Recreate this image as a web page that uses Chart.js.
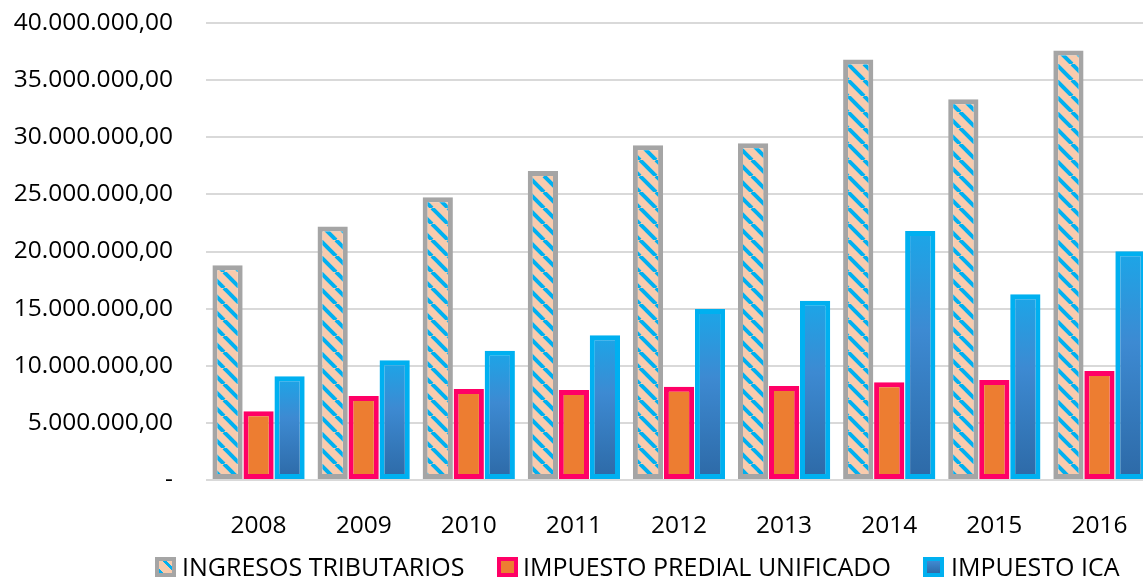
<!DOCTYPE html>
<html>
<head>
<meta charset="utf-8">
<script src="https://cdn.jsdelivr.net/npm/chart.js@4/dist/chart.umd.min.js"></script>
<style>
    html, body { margin: 0; padding: 0; background: #fff; overflow: hidden; }
    #wrap { position: relative; width: 1152px; height: 577px; }
    .legend-item { position: absolute; top: 554px; font: 25px "Open Sans", sans-serif; line-height: 25px; color: #000; white-space: nowrap; }
    .legend-box { position: absolute; top: 557px; width: 21px; height: 20px; box-sizing: border-box; border: 4px solid; }
</style>
</head>
<body>
<div id="wrap">
    <canvas id="budgetChart"></canvas>
    <div class="legend-box" style="left:155px; border-color:#a5a5a5; background:repeating-linear-gradient(45deg, #00b0f0 0 3px, #f8cbad 3px 11px);"></div>
    <div class="legend-item" style="left:182px;">INGRESOS TRIBUTARIOS</div>
    <div class="legend-box" style="left:497px; border-color:#ff0066; background:#ed7d31;"></div>
    <div class="legend-item" style="left:523px;">IMPUESTO PREDIAL UNIFICADO</div>
    <div class="legend-box" style="left:923px; border-color:#00b0f0; background:linear-gradient(#3f8ad2, #2e6aa8);"></div>
    <div class="legend-item" style="left:951px;">IMPUESTO ICA</div>
</div>
<script>
const years = ['2008', '2009', '2010', '2011', '2012', '2013', '2014', '2015', '2016'];
const ingresosTributarios = [18800000, 22180000, 24750000, 27050000, 29310000, 29480000, 36800000, 33330000, 37600000];
const impuestoPredial = [6010000, 7360000, 7970000, 7880000, 8170000, 8230000, 8550000, 8760000, 9540000];
const impuestoIca = [9080000, 10480000, 11320000, 12670000, 14970000, 15700000, 21800000, 16260000, 20030000];
const legendNames = ['INGRESOS TRIBUTARIOS', 'IMPUESTO PREDIAL UNIFICADO', 'IMPUESTO ICA'];

// Excel style "wide downward diagonal" fill
function makeStripes() {
    const tile = document.createElement('canvas');
    tile.width = 16;
    tile.height = 16;
    const c = tile.getContext('2d');
    c.fillStyle = '#f8cbad';
    c.fillRect(0, 0, 16, 16);
    c.strokeStyle = '#00b0f0';
    c.lineWidth = 4;
    [-16, 0, 16].forEach(x0 => {
        c.beginPath();
        c.moveTo(x0, 0);
        c.lineTo(x0 + 16, 16);
        c.stroke();
    });
    return document.getElementById('budgetChart').getContext('2d').createPattern(tile, 'repeat');
}

// each ICA bar gets its own top-to-bottom gradient
function icaFill(context) {
    const chart = context.chart;
    if (!chart.chartArea || context.type !== 'data') return '#3a85cc';
    const y = chart.scales.y;
    const top = y.getPixelForValue(context.raw);
    const base = y.getPixelForValue(0);
    const g = chart.ctx.createLinearGradient(0, top, 0, base);
    g.addColorStop(0, '#1ba6e8');
    g.addColorStop(0.4, '#3d8ad2');
    g.addColorStop(1, '#2d69a6');
    return g;
}

function formatMoney(v) {
    if (v === 0) return '-';
    const s = Math.round(v).toString().replace(/\B(?=(\d{3})+(?!\d))/g, '.');
    return s + ',00';
}

const tickFont = { family: '"Open Sans", sans-serif', size: 24.5 };

new Chart(document.getElementById('budgetChart'), {
    type: 'bar',
    data: {
        labels: years,
        datasets: [
            { label: legendNames[0], data: ingresosTributarios, backgroundColor: makeStripes(), borderColor: '#a5a5a5' },
            { label: legendNames[1], data: impuestoPredial, backgroundColor: '#ed7d31', borderColor: '#ff0066' },
            { label: legendNames[2], data: impuestoIca, backgroundColor: icaFill, borderColor: '#00b0f0' }
        ]
    },
    options: {
        responsive: true,
        maintainAspectRatio: false,
        animation: false,
        events: [],
        layout: { padding: { top: 23, left: 0, right: 0, bottom: 0 } },
        datasets: {
            bar: {
                borderWidth: 5,
                borderSkipped: false,
                categoryPercentage: 0.885,
                barPercentage: 0.975
            }
        },
        plugins: {
            legend: { display: false },
            tooltip: { enabled: false }
        },
        scales: {
            x: {
                grid: { display: false },
                border: { display: false },
                ticks: { color: '#000', font: tickFont, padding: 23 },
                afterFit: s => { s.height = 97; }
            },
            y: {
                min: 0,
                max: 40000000,
                // invisible tick marks give the gap between labels and plot
                grid: { color: '#d9d9d9', lineWidth: 2, drawTicks: true, tickLength: 33, tickColor: 'rgba(0,0,0,0)' },
                border: { display: false },
                ticks: {
                    stepSize: 5000000,
                    color: '#000',
                    font: tickFont,
                    padding: 0,
                    callback: v => formatMoney(v)
                },
                afterFit: s => { s.width = 206; }
            }
        }
    }
});
</script>
</body>
</html>
